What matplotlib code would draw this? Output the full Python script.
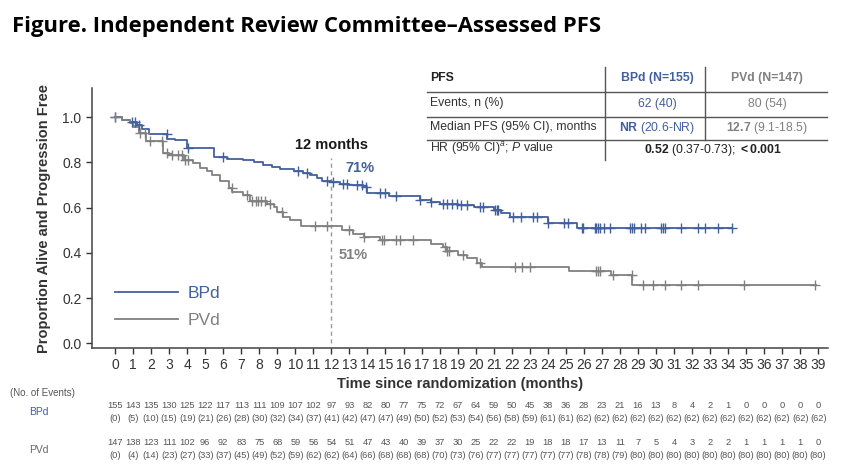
import numpy as np
import matplotlib
matplotlib.use("Agg")
import matplotlib.pyplot as plt
from matplotlib.transforms import blended_transform_factory

plt.rcParams["font.family"] = ["Liberation Sans", "DejaVu Sans"]
plt.rcParams["mathtext.fontset"] = "custom"
plt.rcParams["mathtext.rm"] = "Liberation Sans"
plt.rcParams["mathtext.bf"] = "Liberation Sans:bold"
plt.rcParams["mathtext.it"] = "Liberation Sans:italic"

BLUE = "#41609c"
GRAY = "#808080"

# ── KM steps (time of drop, survival after drop) ──
bpd_t = [0.4, 0.8, 1.2, 1.5, 1.9, 2.9, 3.3, 4.0, 5.5, 6.2, 7.1, 7.7, 8.2, 8.7, 9.15,
         9.9, 10.4, 10.8, 11.2, 11.5, 12.0, 12.5, 13.0, 13.75, 14.0, 15.2, 16.9, 17.5,
         18.0, 19.0, 19.9, 21.0, 21.4, 21.9, 24.0, 25.6]
bpd_s = [0.99, 0.98, 0.965, 0.95, 0.927, 0.905, 0.898, 0.863, 0.823, 0.815, 0.81, 0.80,
         0.788, 0.78, 0.773, 0.762, 0.752, 0.743, 0.73, 0.72, 0.712, 0.706, 0.70, 0.69,
         0.667, 0.65, 0.636, 0.625, 0.618, 0.61, 0.603, 0.588, 0.575, 0.559, 0.53, 0.51]
bpd_end = 34.2
bpd_cens = [0.0, 0.92, 1.1, 1.3, 2.87, 4.05, 6.0, 10.15, 10.65, 11.75, 12.1, 12.65, 12.85,
            13.4, 13.7, 13.9, 14.7, 15.0, 15.6, 16.9, 17.5, 18.2, 18.4, 18.7, 18.95, 19.2,
            19.5, 20.25, 20.4, 21.1, 21.2, 21.25, 22.1, 22.5, 23.2, 23.4, 24.0, 24.9, 25.1,
            25.9, 25.95, 26.6, 26.7, 26.8, 26.9, 27.1, 27.45, 28.56, 28.65, 28.8, 29.2,
            29.4, 30.3, 30.4, 30.5, 31.4, 32.35, 32.7, 33.46, 34.2]

pvd_t = [0.4, 0.8, 1.0, 1.3, 1.7, 2.66, 3.0, 3.8, 4.3, 4.7, 5.1, 5.4, 5.8, 6.3, 6.5, 7.1,
         7.5, 8.4, 8.8, 9.0, 9.3, 9.7, 10.3, 12.6, 13.2, 13.8, 14.7, 17.5, 18.2, 18.4,
         19.0, 19.5, 20.1, 20.35, 25.2, 27.5, 28.7]
pvd_s = [0.99, 0.975, 0.956, 0.93, 0.894, 0.84, 0.832, 0.81, 0.796, 0.774, 0.76, 0.743,
         0.72, 0.686, 0.67, 0.655, 0.63, 0.615, 0.603, 0.58, 0.56, 0.544, 0.518, 0.50,
         0.485, 0.47, 0.456, 0.44, 0.426, 0.41, 0.39, 0.375, 0.353, 0.337, 0.318, 0.30,
         0.257]
pvd_end = 38.9
pvd_cens = [0.0, 1.39, 1.66, 1.94, 2.6, 2.87, 3.14, 3.5, 3.7, 3.9, 4.05, 6.47, 7.3, 7.6,
            7.8, 7.95, 8.1, 8.3, 8.6, 9.25, 11.1, 11.75, 13.0, 13.8, 14.8, 14.9, 15.6,
            15.8, 16.5, 18.3, 18.4, 18.5, 19.3, 20.25, 22.2, 22.55, 23.0, 26.7, 26.8,
            26.9, 27.6, 28.65, 29.3, 29.85, 30.5, 31.4, 32.35, 34.9, 38.8]

months = list(range(40))
bpd_risk = [155, 143, 135, 130, 125, 122, 117, 113, 111, 109, 107, 102, 97, 93, 82, 80,
            77, 75, 72, 67, 64, 59, 50, 45, 38, 36, 28, 23, 21, 16, 13, 8, 4, 2, 1, 0,
            0, 0, 0, 0]
bpd_events = [0, 5, 10, 15, 19, 21, 26, 28, 30, 32, 34, 37, 41, 42, 47, 47, 49, 50, 52,
              53, 54, 56, 58, 59, 61, 61, 62, 62, 62, 62, 62, 62, 62, 62, 62, 62, 62, 62,
              62, 62]
pvd_risk = [147, 138, 123, 111, 102, 96, 92, 83, 75, 68, 59, 56, 54, 51, 47, 43, 40, 39,
            37, 30, 25, 22, 22, 19, 18, 18, 17, 13, 11, 7, 5, 4, 3, 2, 2, 1, 1, 1, 1, 0]
pvd_events = [0, 4, 14, 23, 27, 33, 37, 45, 49, 52, 59, 62, 62, 64, 66, 68, 68, 68, 70,
              73, 76, 77, 77, 77, 77, 77, 78, 78, 79, 80, 80, 80, 80, 80, 80, 80, 80, 80,
              80, 80]


def km_at(t, steps_t, steps_s):
    idx = np.searchsorted(steps_t, t, side="right")
    vals = np.r_[1.0, steps_s]
    return vals[idx]


fig = plt.figure(figsize=(8.68, 4.75), dpi=100)
ax = fig.add_axes([0.106, 0.267, 0.848, 0.547])

for steps_t, steps_s, end, cens, color, label in [
    (bpd_t, bpd_s, bpd_end, bpd_cens, BLUE, "BPd"),
    (pvd_t, pvd_s, pvd_end, pvd_cens, GRAY, "PVd"),
]:
    xs = np.r_[0.0, steps_t, end]
    ys = np.r_[1.0, steps_s, steps_s[-1]]
    ax.step(xs, ys, where="post", color=color, lw=1.3, label=label, zorder=3)
    cens = np.array(cens)
    ax.plot(cens, km_at(cens, steps_t, steps_s), ls="none", marker="+", ms=7.5,
            mew=1.0, color=color, zorder=4)

# 12 month reference
ax.plot([12, 12], [0, 0.82], ls=(0, (3, 2.5)), color="#9a9a9a", lw=1.0, zorder=2)
ax.text(12, 0.845, "12 months", ha="center", va="bottom", fontsize=10.5,
        fontweight="bold", color="#1a1a1a")
ax.text(12.8, 0.775, "71%", ha="left", va="center", fontsize=10.5,
        fontweight="bold", color=BLUE)
ax.text(12.4, 0.39, "51%", ha="left", va="center", fontsize=10.5,
        fontweight="bold", color=GRAY)

ax.set_xlim(-1.28, 39.55)
ax.set_ylim(-0.022, 1.128)
ax.set_xticks(months)
ax.set_yticks([0.0, 0.2, 0.4, 0.6, 0.8, 1.0])
ax.set_yticklabels(["0.0", "0.2", "0.4", "0.6", "0.8", "1.0"])
ax.tick_params(axis="both", direction="out", length=4, width=1, colors="#333333",
               labelsize=10)
ax.tick_params(axis="x", pad=3)
for side in ("top", "right"):
    ax.spines[side].set_visible(False)
for side in ("left", "bottom"):
    ax.spines[side].set_color("#444444")
    ax.spines[side].set_linewidth(1.1)

ax.set_xlabel("Time since randomization (months)", fontsize=10.5, fontweight="bold",
              color="#333333", labelpad=4)
ax.set_ylabel("Proportion Alive and Progression Free", fontsize=10.5,
              fontweight="bold", color="#333333", labelpad=8)

leg = ax.legend(loc="center left", bbox_to_anchor=(0.022, 0.157), borderaxespad=0,
                frameon=False, fontsize=12.5, handlelength=3.6, handletextpad=0.55,
                labelspacing=0.68)
for txt, color in zip(leg.get_texts(), (BLUE, GRAY)):
    txt.set_color(color)

# ── table in the top right ──
tfs = 8.8
fig.text(0.495, 0.836, "PFS", fontsize=tfs, fontweight="bold", color="#222222",
         va="center")
fig.text(0.757, 0.836, "BPd (N=155)", fontsize=tfs, fontweight="bold", color=BLUE,
         ha="center", va="center")
fig.text(0.884, 0.836, "PVd (N=147)", fontsize=tfs, fontweight="bold", color=GRAY,
         ha="center", va="center")
fig.text(0.495, 0.783, "Events, n (%)", fontsize=tfs, color="#333333", va="center")
fig.text(0.757, 0.781, "62 (40)", fontsize=tfs, color=BLUE, ha="center", va="center")
fig.text(0.884, 0.781, "80 (54)", fontsize=tfs, color=GRAY, ha="center", va="center")
fig.text(0.495, 0.733, "Median PFS (95% CI), months", fontsize=tfs, color="#333333",
         va="center")
fig.text(0.757, 0.731, r"$\bf{NR}$ (20.6-NR)", fontsize=tfs, color=BLUE, ha="center",
         va="center")
fig.text(0.884, 0.731, r"$\bf{12.7}$ (9.1-18.5)", fontsize=tfs, color=GRAY, ha="center",
         va="center")
fig.text(0.495, 0.688, r"HR (95% CI)$^{a}$; $\it{P}$ value", fontsize=tfs,
         color="#333333", va="center")
fig.text(0.821, 0.684, r"$\bf{0.52}$ (0.37-0.73); $\bf{<0.001}$", fontsize=tfs,
         color="#222222", ha="center", va="center")

line_kw = dict(color="#555555", lw=1.0, transform=fig.transFigure)
for yy in (0.807, 0.754, 0.705):
    fig.add_artist(plt.Line2D([0.492, 0.953], [yy, yy], **line_kw))
fig.add_artist(plt.Line2D([0.697, 0.697], [0.859, 0.663], **line_kw))
fig.add_artist(plt.Line2D([0.812, 0.812], [0.859, 0.705], **line_kw))

# ── title ──
fig.text(0.014, 0.933, "Figure. Independent Review Committee–Assessed PFS",
         fontsize=15.8, fontweight="bold", family=["Open Sans", "DejaVu Sans"],
         color="#000000", va="baseline")

# ── number at risk ──
tr = blended_transform_factory(ax.transData, fig.transFigure)
risk_font = dict(fontsize=6.7, color="#555555", ha="center", va="center",
                 family=["Liberation Sans Narrow", "Liberation Sans"])
fig.text(0.012, 0.173, "(No. of Events)", fontsize=7, color="#555555",
         va="center", family=["Liberation Sans Narrow", "Liberation Sans"])
fig.text(0.034, 0.132, "BPd", fontsize=7.5, color=BLUE, va="center")
fig.text(0.034, 0.052, "PVd", fontsize=7.5, color="#666666", va="center")
for m, r, e in zip(months, bpd_risk, bpd_events):
    ax.text(m, 0.146, str(r), transform=tr, **risk_font)
    ax.text(m, 0.118, f"({e})", transform=tr, **risk_font)
for m, r, e in zip(months, pvd_risk, pvd_events):
    ax.text(m, 0.068, str(r), transform=tr, **risk_font)
    ax.text(m, 0.040, f"({e})", transform=tr, **risk_font)

fig.savefig("out.png", dpi=100)
